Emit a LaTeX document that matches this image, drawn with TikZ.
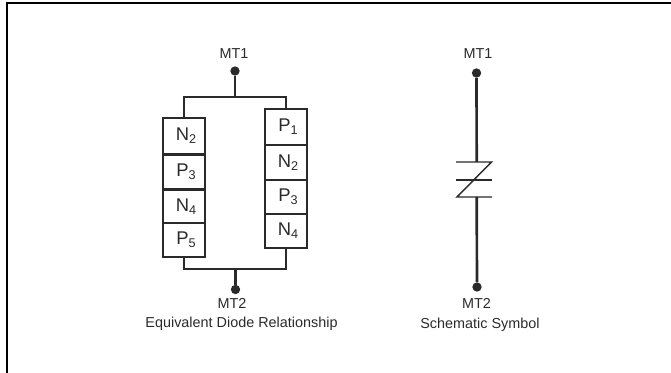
\documentclass[tikz,border=0pt]{standalone}
\usepackage{fontspec}
\setmainfont{Liberation Sans}
\definecolor{ink}{HTML}{2A2A2A}
\tikzset{
  x=0.75pt,y=-0.75pt,
  wire/.style={draw=ink,line width=1.6pt},
  heavy/.style={draw=ink,line width=2pt},
  thinbar/.style={draw=ink,line width=1.1pt},
  layer/.style={draw=ink,line width=1.6pt,minimum width=31.5pt,minimum height=26pt,inner sep=0pt,outer sep=0pt,font=\fontsize{13.8}{14}\selectfont,text=ink},
  term/.style={circle,fill=ink,draw=none,minimum size=7pt,inner sep=0pt},
  lab/.style={font=\fontsize{10.8}{12}\selectfont,text=ink,inner sep=0pt},
}
\newcommand{\lay}[2]{\hspace*{3pt}#1\raisebox{-2.5pt}{\fontsize{9.5}{10}\selectfont #2}}
\begin{document}
\begin{tikzpicture}
\useasboundingbox (0,0) rectangle (671,373);
\draw[black,line width=1.5pt] (7,373) -- (7,3) -- (671,3);
% left stack
\node[layer,minimum height=27pt] (a1) at (184,136) {\lay{N}{2}};
\node[layer,minimum height=26pt] (a2) at (184,172) {\lay{P}{3}};
\node[layer,minimum height=25pt] (a3) at (184,206.5) {\lay{N}{4}};
\node[layer,minimum height=25.5pt] (a4) at (184,240) {\lay{P}{5}};
% right stack
\node[layer,minimum height=27pt] (b1) at (286,127) {\lay{P}{1}};
\node[layer,minimum height=26.5pt] (b2) at (286,162.5) {\lay{N}{2}};
\node[layer,minimum height=25.5pt] (b3) at (286,197) {\lay{P}{3}};
\node[layer,minimum height=25pt] (b4) at (286,231) {\lay{N}{4}};
% terminals
\node[term] (t1) at (235,71) {};
\node[term] (t2) at (235.5,289.5) {};
\coordinate (topbus) at (235,96.7);
\coordinate (botbus) at (235.5,268.7);
\node[lab] (l1) at (234,54) {MT1};
\node[lab] (l2) at (232,303.5) {MT2};
\node[lab] (cap1) at (241.5,324) {Equivalent Diode Relationship};
\draw[wire] (t1) -- (topbus);
\draw[wire] (a1.north) |- (topbus) -| (b1.north);
\draw[wire] (t2) -- (botbus);
\draw[wire] (a4.south) |- (botbus) -| (b4.south);
% schematic symbol
\node[term] (s1) at (476.5,73) {};
\node[term] (s2) at (477,287) {};
\coordinate (st) at (476.7,162);
\coordinate (sb) at (476.7,197);
\coordinate (d1) at (491.5,162);
\coordinate (d2) at (457,197);
\node[lab] (m1) at (478,54) {MT1};
\node[lab] (m2) at (476.5,303.5) {MT2};
\node[lab] (cap2) at (480,325) {Schematic Symbol};
\draw[heavy] (s1) -- (st);
\draw[heavy] (sb) -- (s2);
\draw[thinbar] (456,162) -- (d1) -- (d2) -- (492,197);
\draw[thinbar] (456,180) -- (491.5,180);
\end{tikzpicture}
\end{document}
